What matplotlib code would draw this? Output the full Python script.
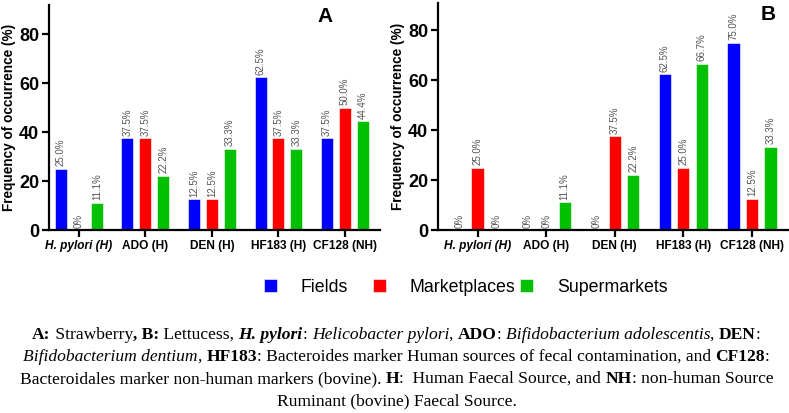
import numpy as np
import matplotlib.pyplot as plt

# data
markers = ['H. pylori (H)', 'ADO (H)', 'DEN (H)', 'HF183 (H)', 'CF128 (NH)']
sources = ['Fields', 'Marketplaces', 'Supermarkets']
colors = ['#0000ff', '#ff0000', '#00c000']

strawberry = {
    'Fields': [25.0, 37.5, 12.5, 62.5, 37.5],
    'Marketplaces': [0.0, 37.5, 12.5, 37.5, 50.0],
    'Supermarkets': [11.1, 22.2, 33.3, 33.3, 44.4],
}
lettuce = {
    'Fields': [0.0, 0.0, 0.0, 62.5, 75.0],
    'Marketplaces': [25.0, 0.0, 37.5, 25.0, 12.5],
    'Supermarkets': [0.0, 11.1, 22.2, 66.7, 33.3],
}

plt.rcParams['font.family'] = 'Liberation Sans'

fig = plt.figure(figsize=(7.89, 4.13), dpi=100)
axA = fig.add_axes([0.062, 0.443, 0.420, 0.545])
axB = fig.add_axes([0.555, 0.443, 0.444, 0.550])

x = np.arange(len(markers))
offsets = [-0.27, 0, 0.27]
width = 0.18


def fmt(v):
    return '0%' if v == 0 else '%.1f%%' % v


def draw(ax, data, letter, letter_x, xlim, ylim):
    for i, s in enumerate(sources):
        vals = data[s]
        ax.bar(x + offsets[i], vals, width, color=colors[i], label=s,
               edgecolor='white', linewidth=0.4)
        for xi, v in zip(x + offsets[i], vals):
            ax.text(xi, v + 1.0, fmt(v), rotation=90, ha='center', va='bottom',
                    fontsize=7, color='#555555')
    ax.set_xlim(*xlim)
    ax.set_ylim(*ylim)
    ax.set_yticks([0, 20, 40, 60, 80])
    ax.set_xticks(x)
    ax.set_xticklabels(markers, fontsize=8.6, fontweight='bold')
    ax.get_xticklabels()[0].set_style('italic')
    for lab in ax.get_yticklabels():
        lab.set_fontweight('bold')
        lab.set_fontsize(13)
    ax.set_ylabel('Frequency of occurrence (%)', fontsize=9.8, fontweight='bold',
                  labelpad=2)
    for sp in ['top', 'right']:
        ax.spines[sp].set_visible(False)
    for sp in ['left', 'bottom']:
        ax.spines[sp].set_linewidth(1.6)
    ax.tick_params(width=1.6, length=5, pad=2)
    ax.text(letter_x, 0.99, letter, transform=ax.transAxes, fontsize=15,
            fontweight='bold', ha='center', va='top')


draw(axA, strawberry, 'A', 0.834, (-0.45, 4.53), (0, 92))
draw(axB, lettuce, 'B', 0.943, (-0.58, 4.53), (0, 91))

# one legend entry per source, placed like the reference
handles, labels = axA.get_legend_handles_labels()
legend_x = [264, 373, 520]
for h, lab, lx in zip(handles, labels, legend_x):
    fig.legend([h], [lab], loc='center left', bbox_to_anchor=(lx / 789, 1 - 287 / 413),
               frameon=False, fontsize=12.8, handlelength=0.72, handleheight=0.72,
               handletextpad=1.35, borderpad=0, borderaxespad=0)

# caption with mixed styles
caption = [
    [('A:', 'bold'), (' Strawberry', 'normal'), (', B:', 'bold'), (' Lettucess, ', 'normal'),
     ('H. pylori', 'bolditalic'), (': ', 'normal'), ('Helicobacter pylori', 'italic'),
     (', ', 'normal'), ('ADO', 'bold'), (': ', 'normal'),
     ('Bifidobacterium adolescentis', 'italic'), (', ', 'normal'), ('DEN', 'bold'),
     (':', 'normal')],
    [('Bifidobacterium dentium', 'italic'), (', ', 'normal'), ('HF183', 'bold'),
     (': Bacteroides marker Human sources of fecal contamination, and ', 'normal'),
     ('CF128', 'bold'), (':', 'normal')],
    [('Bacteroidales marker non-human markers (bovine). ', 'normal'), ('H', 'bold'),
     (':  Human Faecal Source, and ', 'normal'), ('NH', 'bold'),
     (': non-human Source', 'normal')],
    [('Ruminant (bovine) Faecal Source.', 'normal')],
]
line_y = [335, 357, 379, 401]
renderer = fig.canvas.get_renderer()
W = fig.get_figwidth() * fig.dpi
for segs, yy in zip(caption, line_y):
    texts = []
    xpos = 0
    for s, st in segs:
        kw = dict(fontsize=12.6, family='Liberation Serif', va='center', ha='left')
        if 'bold' in st:
            kw['fontweight'] = 'bold'
        if 'italic' in st:
            kw['style'] = 'italic'
        t = fig.text(xpos / W, 1 - yy / 413, s, **kw)
        xpos += t.get_window_extent(renderer).width
        texts.append(t)
    acc = (W - xpos) / 2 + 2
    for t in texts:
        w = t.get_window_extent(renderer).width
        t.set_x(acc / W)
        acc += w

fig.savefig('out.png', dpi=100)
